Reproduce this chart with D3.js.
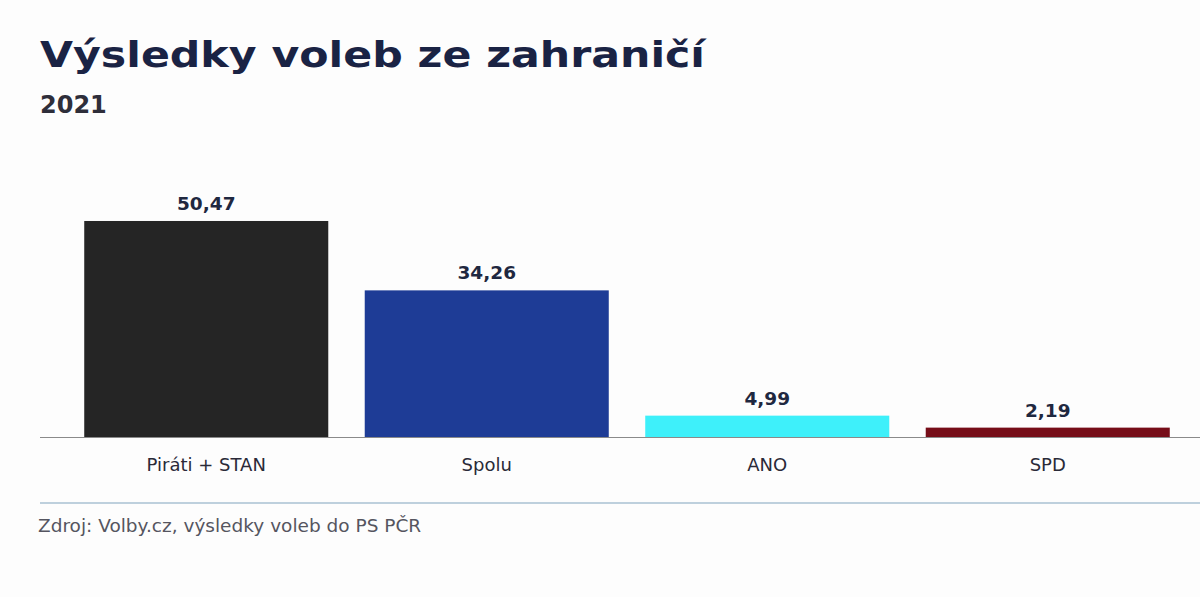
<!DOCTYPE html>
<html>
<head>
<meta charset="utf-8">
<script src="https://cdn.jsdelivr.net/npm/d3@7"></script>
<style>
  body { margin: 0; background: #fdfdfd; }
  svg { display: block; font-family: "DejaVu Sans", Verdana, sans-serif; }
</style>
</head>
<body>
<svg class="chart" width="1200" height="597"></svg>
<script>
const parties = ["Piráti + STAN", "Spolu", "ANO", "SPD"];
const results = [50.47, 34.26, 4.99, 2.19];
const barColors = ["#252525", "#1e3c96", "#3ef0fa", "#760d18"];

const svg = d3.select("svg.chart");
const baseY = 437;

const x = d3.scaleBand()
  .domain(parties)
  .range([66, 1188])
  .paddingInner(0.13)
  .paddingOuter(0.065);

const y = d3.scaleLinear()
  .domain([0, 55])
  .range([baseY, baseY - 55 * 4.28]);

const data = parties.map((p, i) => ({ party: p, value: results[i], color: barColors[i] }));
const fmt = v => d3.format(".2f")(v).replace(".", ",");

// title (source font is wider than DejaVu, stretch to the same width)
svg.append("text")
  .attr("x", 40).attr("y", 67)
  .attr("fill", "#1a2344")
  .attr("textLength", 665)
  .attr("lengthAdjust", "spacingAndGlyphs")
  .style("font-size", "36px").style("font-weight", "bold")
  .text("Výsledky voleb ze zahraničí");

svg.append("text")
  .attr("x", 40).attr("y", 113)
  .attr("fill", "#2e2e3a")
  .style("font-size", "24px").style("font-weight", "bold")
  .text("2021");

// bars
svg.append("g")
  .selectAll("rect")
  .data(data)
  .enter().append("rect")
  .attr("x", d => x(d.party))
  .attr("width", x.bandwidth())
  .attr("y", d => y(d.value))
  .attr("height", d => y(0) - y(d.value))
  .attr("fill", d => d.color);

// baseline
svg.append("line")
  .attr("x1", 40).attr("x2", 1200)
  .attr("y1", y(0) + 0.5).attr("y2", y(0) + 0.5)
  .attr("stroke", "#8a8a8a").attr("stroke-width", 1.2);

// value labels
svg.append("g")
  .selectAll("text")
  .data(data)
  .enter().append("text")
  .attr("x", d => x(d.party) + x.bandwidth() / 2)
  .attr("y", d => y(d.value) - 11)
  .attr("text-anchor", "middle")
  .attr("fill", "#1f2840")
  .style("font-size", "18.5px").style("font-weight", "bold")
  .text(d => fmt(d.value));

// category axis
const axis = svg.append("g")
  .attr("transform", "translate(0," + baseY + ")")
  .call(d3.axisBottom(x).tickSize(0).tickPadding(21));
axis.select(".domain").remove();
axis.selectAll("text")
  .attr("fill", "#2a2a38")
  .style("font-family", "'DejaVu Sans', Verdana, sans-serif")
  .style("font-size", "18px");

// separator and source
svg.append("line")
  .attr("x1", 40).attr("x2", 1200)
  .attr("y1", 503).attr("y2", 503)
  .attr("stroke", "#a9c0d2").attr("stroke-width", 1.5);

svg.append("text")
  .attr("x", 38).attr("y", 532)
  .attr("fill", "#555560")
  .style("font-size", "18.5px")
  .text("Zdroj: Volby.cz, výsledky voleb do PS PČR");
</script>
</body>
</html>
